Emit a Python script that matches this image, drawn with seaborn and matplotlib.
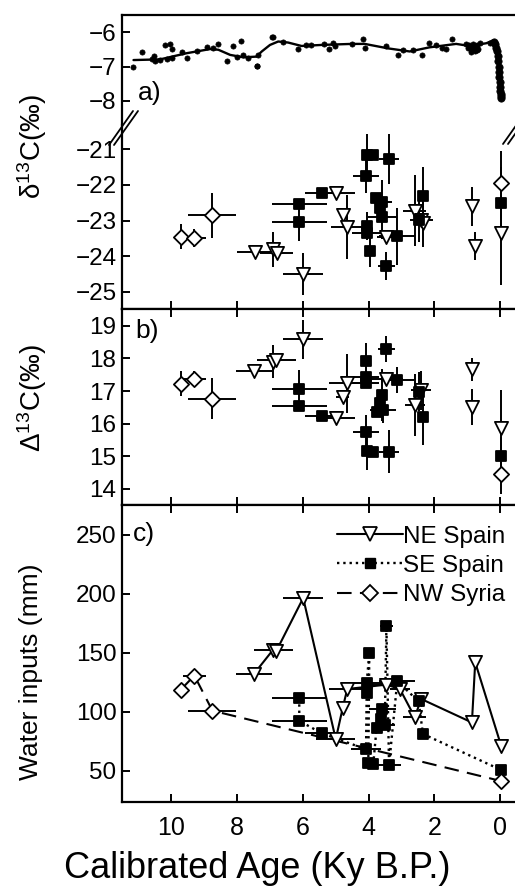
import numpy as np
import seaborn as sns
import matplotlib.pyplot as plt
from matplotlib.lines import Line2D

sns.set_style("ticks")
plt.rcParams['font.family'] = ['Liberation Sans', 'DejaVu Sans']
plt.rcParams['mathtext.fontset'] = 'custom'
plt.rcParams['mathtext.rm'] = 'Liberation Sans'
plt.rcParams['mathtext.it'] = 'Liberation Sans'
for key in ['text.color', 'axes.edgecolor', 'axes.labelcolor', 'xtick.color', 'ytick.color']:
    plt.rcParams[key] = 'black'

# --- panel a, top: atmospheric d13C record (dots + smoothed curve) ---
atm_age = [11.16, 10.90, 10.59, 10.54, 10.49, 10.34, 10.19, 10.13, 10.03, 9.98,
           9.98, 9.68, 9.53, 9.23, 8.92, 8.74, 8.57, 8.32, 8.12, 8.01,
           7.89, 7.81, 7.66, 7.41, 7.38, 7.36, 6.95, 6.90, 6.60, 6.16,
           5.89, 5.76, 5.35, 5.21, 5.08, 5.03, 4.52, 4.17, 4.12, 3.46,
           3.11, 2.96, 2.65, 2.37, 2.17, 1.94, 1.76, 1.64, 1.46, 1.03,
           0.98, 0.95, 0.90, 0.86, 0.82, 0.78, 0.74, 0.70, 0.66, 0.62,
           0.88, 0.80, 0.72, 0.32]
atm_d13 = [-7.0, -6.59, -6.79, -6.69, -6.85, -6.81, -6.37, -6.79, -6.34, -6.49,
           -6.76, -6.59, -6.76, -6.56, -6.42, -6.47, -6.34, -6.85, -6.40, -6.71,
           -6.25, -6.66, -6.76, -6.98, -6.98, -6.66, -6.13, -6.15, -6.27, -6.49,
           -6.37, -6.37, -6.34, -6.49, -6.30, -6.40, -6.34, -6.20, -6.47, -6.40,
           -6.66, -6.51, -6.51, -6.66, -6.30, -6.37, -6.47, -6.49, -6.20, -6.35,
           -6.45, -6.38, -6.50, -6.42, -6.33, -6.55, -6.40, -6.36, -6.48, -6.30,
           -6.58, -6.46, -6.52, -6.30]
# industrial-era drop (dense measurements)
ind_age = [0.18, 0.15, 0.12, 0.10, 0.08, 0.06, 0.05, 0.04, 0.03, 0.02, 0.01, 0.0, -0.01, -0.02, -0.03]
ind_d13 = [-6.28, -6.35, -6.45, -6.55, -6.70, -6.85, -7.00, -7.15, -7.30, -7.45, -7.60, -7.70, -7.80, -7.86, -7.92]
curve_age = [11.15, 10.34, 9.53, 8.82, 8.57, 8.21, 7.81, 7.41, 7.25, 7.0, 6.75, 6.45, 6.04,
             5.43, 4.52, 4.12, 3.41, 2.75, 2.15, 1.34, 0.93, 0.42, 0.22, 0.07, 0.02, -0.03]
curve_d13 = [-6.81, -6.79, -6.61, -6.49, -6.51, -6.66, -6.73, -6.71, -6.56, -6.37, -6.27, -6.30, -6.40,
             -6.37, -6.34, -6.34, -6.47, -6.56, -6.44, -6.34, -6.40, -6.32, -6.24, -6.61, -7.19, -7.92]

# --- panel a, bottom: d13C of the sites ---
ne_d13_age = [7.45, 6.90, 6.79, 5.99, 5.00, 4.79, 4.65, 3.46, 2.60, 2.40, 2.35, 0.86, 0.76, -0.03]
ne_d13 = [-23.88, -23.81, -23.90, -24.50, -22.22, -22.85, -23.19, -23.45, -22.72, -22.98, -23.08, -22.60, -23.72, -23.36]
ne_d13_xerr = [0.55, 0, 0.5, 0.6, 0.6, 0, 0.5, 0.3, 0.35, 0.35, 0, 0, 0, 0]
ne_d13_yerr = [0, 0.5, 0, 0.6, 0, 0, 0.9, 0, 1.0, 0, 0.65, 0.55, 0.4, 1.45]

se_d13_age = [6.11, 6.11, 5.43, 4.08, 4.06, 3.88, 3.38, 3.78, 3.58, 3.66, 3.58, 4.06, 4.06, 3.96, 3.46, 3.13, 2.48, 2.35, -0.03]
se_d13 = [-22.54, -23.03, -22.24, -21.74, -21.16, -21.16, -21.28, -22.38, -22.47, -22.66, -22.91, -23.15, -23.36, -23.86, -24.28, -23.44, -22.99, -22.31, -22.50]
se_d13_xerr = [0.83, 0.83, 0.5, 0.4, 0, 0, 0.3, 0, 0.3, 0, 0.45, 0, 0.45, 0, 0.25, 0.55, 0, 0, 0]
se_d13_yerr = [0, 0.55, 0, 0.5, 0.6, 0, 0.7, 0, 0.6, 0, 0.6, 0.4, 0, 0.45, 0.4, 0.8, 0.6, 0.8, 1.0]

sy_d13_age = [9.71, 9.30, 8.75, -0.03]
sy_d13 = [-23.45, -23.48, -22.85, -21.94]
sy_d13_xerr = [0, 0.35, 0.73, 0]
sy_d13_yerr = [0.35, 0.25, 0.63, 0.9]

# --- panel b: Delta13C ---
ne_D13_age = [7.48, 6.90, 6.81, 5.99, 5.00, 4.79, 4.65, 3.46, 2.60, 2.40, 0.86, 0.86, -0.03]
ne_D13 = [17.6, 17.9, 17.95, 18.59, 16.16, 16.83, 17.24, 17.36, 16.57, 17.03, 17.67, 16.5, 15.88]
ne_D13_xerr = [0.55, 0, 0.6, 0.6, 0.6, 0.2, 0.55, 0.5, 0.3, 0.3, 0, 0, 0]
ne_D13_yerr = [0, 0.5, 0, 0.6, 0, 0, 0.9, 0, 0.95, 0.6, 0.35, 0.55, 1.15]

se_D13_age = [6.11, 6.11, 5.43, 4.08, 4.08, 4.08, 4.08, 4.06, 3.86, 3.46, 3.58, 3.66, 3.76, 3.56, 3.38, 3.13, 2.48, 2.35, -0.03]
se_D13 = [17.05, 16.54, 16.23, 17.92, 17.44, 17.24, 15.75, 15.17, 15.14, 18.29, 16.88, 16.62, 16.37, 16.42, 15.14, 17.34, 16.98, 16.19, 15.0]
se_D13_xerr = [0.83, 0.83, 0.5, 0, 0.4, 0.4, 0.4, 0, 0, 0.25, 0, 0, 0, 0.4, 0.3, 0.5, 0, 0, 0]
se_D13_yerr = [0.6, 0, 0, 0.55, 0, 0, 0.5, 0.6, 0, 0.4, 0.8, 0, 0, 0.4, 0.65, 0.4, 0.6, 0.85, 0.6]

sy_D13_age = [9.71, 9.30, 8.75, -0.03]
sy_D13 = [17.22, 17.37, 16.77, 14.45]
sy_D13_xerr = [0, 0.35, 0.73, 0]
sy_D13_yerr = [0.38, 0.25, 0.63, 0.6]

# --- panel c: water inputs (mm) ---
ne_w_age = [7.48, 6.90, 6.81, 5.99, 5.00, 4.79, 4.65, 3.46, 3.05, 2.60, 2.40, 0.86, 0.76, -0.03]
ne_w = [132.4, 152.8, 151.4, 196.5, 76.7, 103.1, 119.3, 123.0, 119.3, 95.5, 110.8, 90.9, 142.0, 71.0]
ne_w_xerr = [0.55, 0.6, 0, 0.6, 0.6, 0, 0.55, 0.5, 0.3, 0.35, 0, 0, 0, 0]

se_w_age = [6.11, 6.11, 5.43, 4.08, 4.06, 4.06, 3.98, 4.01, 3.86, 3.76, 3.61, 3.58, 3.51, 3.46, 3.38, 3.13, 2.48, 2.35, -0.03]
se_w = [111.6, 92.3, 81.8, 68.2, 115.9, 124.4, 150.0, 56.8, 55.4, 86.1, 93.8, 102.3, 88.9, 172.5, 54.8, 125.9, 108.8, 81.2, 50.6]
se_w_xerr = [0.83, 0.83, 0.5, 0.45, 0, 0.6, 0, 0, 0, 0, 0, 0.4, 0.3, 0.2, 0.35, 0.55, 0, 0, 0]

sy_w_age = [9.71, 9.30, 8.75, -0.03]
sy_w = [118.8, 130.7, 100.9, 41.2]
sy_w_xerr = [0, 0.35, 0.73, 0]

site_names = ['NE Spain', 'SE Spain', 'NW Syria']
age_ticks = [10, 8, 6, 4, 2, 0]

W, H = 515, 889
fig = plt.figure(figsize=(W / 100, H / 100), dpi=100)


def box(top, bottom, left=122, right=515):
    return [left / W, 1 - bottom / H, (right - left) / W, (bottom - top) / H]


ax_top = fig.add_axes(box(14.7, 125))
ax_a = fig.add_axes(box(125, 309.3))
ax_b = fig.add_axes(box(309.3, 505))
ax_c = fig.add_axes(box(505, 801.7))
axes = [ax_top, ax_a, ax_b, ax_c]

ms_tri, ms_sq, ms_dia = 90, 60, 60


def draw_site(ax, age, val, xerr, yerr, marker, face, s):
    ax.errorbar(age, val, xerr=xerr, yerr=yerr, fmt='none', ecolor='k',
                elinewidth=1.4, capsize=0, zorder=2)
    sns.scatterplot(x=age, y=val, ax=ax, marker=marker, s=s, color=face,
                    edgecolor='k', linewidth=1.3, zorder=3, legend=False)


# panel a top
sns.lineplot(x=curve_age, y=curve_d13, ax=ax_top, sort=False, estimator=None,
             color='k', lw=1.7, zorder=2)
sns.scatterplot(x=atm_age, y=atm_d13, ax=ax_top, s=14, color='k', edgecolor='k',
                linewidth=0.5, zorder=3, legend=False)
sns.scatterplot(x=ind_age, y=ind_d13, ax=ax_top, s=28, color='k', edgecolor='k',
                linewidth=0.5, zorder=3, legend=False)

# panel a bottom
draw_site(ax_a, ne_d13_age, ne_d13, ne_d13_xerr, ne_d13_yerr, 'v', 'white', ms_tri)
draw_site(ax_a, se_d13_age, se_d13, se_d13_xerr, se_d13_yerr, 's', 'black', ms_sq)
draw_site(ax_a, sy_d13_age, sy_d13, sy_d13_xerr, sy_d13_yerr, 'D', 'white', ms_dia)

# panel b
draw_site(ax_b, ne_D13_age, ne_D13, ne_D13_xerr, ne_D13_yerr, 'v', 'white', ms_tri)
draw_site(ax_b, se_D13_age, se_D13, se_D13_xerr, se_D13_yerr, 's', 'black', ms_sq)
draw_site(ax_b, sy_D13_age, sy_D13, sy_D13_xerr, sy_D13_yerr, 'D', 'white', ms_dia)

# panel c
sns.lineplot(x=ne_w_age, y=ne_w, ax=ax_c, sort=False, estimator=None, color='k', lw=1.5, zorder=1)
sns.lineplot(x=se_w_age, y=se_w, ax=ax_c, sort=False, estimator=None, color='k', lw=1.7,
             linestyle=':', zorder=1)
sns.lineplot(x=sy_w_age, y=sy_w, ax=ax_c, sort=False, estimator=None, color='k', lw=1.5,
             dashes=(7, 4), zorder=1)
zeros = lambda n: [0] * n
draw_site(ax_c, ne_w_age, ne_w, ne_w_xerr, zeros(len(ne_w)), 'v', 'white', ms_tri)
draw_site(ax_c, se_w_age, se_w, se_w_xerr, zeros(len(se_w)), 's', 'black', ms_sq)
draw_site(ax_c, sy_w_age, sy_w, sy_w_xerr, zeros(len(sy_w)), 'D', 'white', ms_dia)

handles = [
    Line2D([], [], color='k', lw=1.5, marker='v', mfc='white', mec='k', ms=9.5, mew=1.3),
    Line2D([], [], color='k', lw=1.7, ls=':', marker='s', mfc='black', mec='k', ms=7.7),
    Line2D([], [], color='k', lw=1.5, ls=(0, (7, 4)), marker='D', mfc='white', mec='k', ms=7.7, mew=1.3),
]
ax_c.legend(handles, site_names, loc='upper right', bbox_to_anchor=(1.027, 1.0), frameon=False,
            fontsize=17.5, handlelength=2.7, handletextpad=0.0, labelspacing=0.3,
            borderaxespad=0.1, borderpad=0.75)

# axes styling
xlim = (11.5, -0.45)
for ax in axes:
    ax.set_xlim(xlim)
    ax.set_xlabel('')
    ax.set_ylabel('')
    ax.spines['right'].set_visible(False)
    for sp in ax.spines.values():
        sp.set_linewidth(1.6)
    ax.tick_params(direction='in', length=6, width=1.4, labelsize=17.5, pad=4, colors='black')
    ax.set_xticks(age_ticks)

ax_top.set_ylim(-8.7, -5.49)
ax_top.set_yticks([-6, -7, -8])
ax_top.spines['bottom'].set_visible(False)
ax_top.tick_params(axis='x', bottom=False, labelbottom=False)

ax_a.set_ylim(-25.49, -20.32)
ax_a.set_yticks([-21, -22, -23, -24, -25])
ax_a.spines['top'].set_visible(False)
ax_a.tick_params(axis='x', labelbottom=False)

ax_b.set_ylim(13.5, 19.51)
ax_b.set_yticks([14, 15, 16, 17, 18, 19])
ax_b.tick_params(axis='x', top=True, labelbottom=False)

ax_c.set_ylim(23.7, 275.4)
ax_c.set_yticks([50, 100, 150, 200, 250])
ax_c.tick_params(axis='x', top=True, pad=10, labelsize=18)

# panel letters
ax_top.text(0.04, 0.29, 'a)', transform=ax_top.transAxes, fontsize=19, va='center')
ax_b.text(0.033, 0.889, 'b)', transform=ax_b.transAxes, fontsize=19, va='center')
ax_c.text(0.028, 0.902, 'c)', transform=ax_c.transAxes, fontsize=19, va='center')

# axis break marks
for dx in (0, 5):
    fig.add_artist(Line2D([(109 + dx) / W, (133 + dx) / W], [1 - (144 + 1) / H, 1 - (110 + 1) / H],
                          color='k', lw=1.3))
    fig.add_artist(Line2D([(503 + dx) / W, (527 + dx) / W], [1 - 144 / H, 1 - 110 / H],
                          color='k', lw=1.3))

# axis labels
fig.text(32 / W, 1 - 147 / H, 'δ$^{13}$C(‰)', rotation=90, ha='center', va='center', fontsize=20)
fig.text(32 / W, 1 - 398 / H, 'Δ$^{13}$C(‰)', rotation=90, ha='center', va='center', fontsize=20)
fig.text(31 / W, 1 - 672 / H, 'Water inputs (mm)', rotation=90, ha='center', va='center', fontsize=19)
fig.text(0.5, 1 - 868 / H, 'Calibrated Age (Ky B.P.)', ha='center', va='center', fontsize=26)

fig.savefig('out.png', dpi=100)
